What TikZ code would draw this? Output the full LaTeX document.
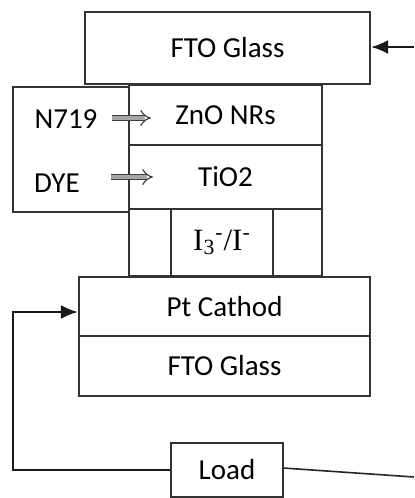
\documentclass[tikz,border=0pt]{standalone}
\usepackage{fontspec}
\setmainfont{Carlito}
\newfontfamily\tnr{Liberation Serif}
\usetikzlibrary{arrows.meta}
\begin{document}
\begin{tikzpicture}[x=0.5pt,y=-0.5pt,
  lay/.style={draw=black!80,line width=1.1pt,rectangle,inner sep=0pt,font=\fontsize{14.5}{17}\selectfont},
  wire/.style={draw=black!90,line width=1.1pt},
  tip/.style={-{Latex[length=8.5pt,width=7pt]}},
  hollow/.style={draw=black!75,line width=0.6pt,double=black!35,double distance=2.2pt,-{Implies[length=4pt]}}]
\useasboundingbox (0,0) rectangle (414,498);
% top FTO glass
\node[lay,minimum width=142.5pt,minimum height=36pt] (fto1) at (227.5,48) {FTO Glass};
% dye box
\node[lay,minimum width=58pt,minimum height=62.5pt] (dye) at (71,149.5) {};
\node[font=\fontsize{14.5}{17}\selectfont,inner sep=0pt] (n719) at (66,119) {N719};
\node[font=\fontsize{14.5}{17}\selectfont,inner sep=0pt] (dyet) at (57,183) {DYE};
% ZnO and TiO2
\node[lay,minimum width=96.5pt,minimum height=30pt] (zno) at (225.5,115) {ZnO NRs};
\node[lay,minimum width=96.5pt,minimum height=32pt] (tio) at (225.5,177) {TiO2};
% electrolyte
\node[lay,minimum width=96.5pt,minimum height=33.5pt] (ele) at (225.5,242.5) {};
\node[lay,minimum width=51pt,minimum height=33.5pt,font=\tnr\fontsize{15.5}{17}\selectfont] (iod) at (222,242.5) {I\textsubscript{3}\textsuperscript{-}/I\textsuperscript{-}};
% cathode
\node[lay,minimum width=145.5pt,minimum height=29.5pt] (pt) at (224.5,306.5) {Pt Cathod};
\node[lay,minimum width=145.5pt,minimum height=30pt] (fto2) at (224.5,366) {FTO Glass};
% load
\node[lay,minimum width=56pt,minimum height=27pt] (load) at (227,470) {Load};
% arrows from dye
\coordinate (a1s) at (112,118); \coordinate (a1e) at (151,118);
\coordinate (a2s) at (111,177); \coordinate (a2e) at (153,177);
\draw[hollow] (a1s) -- (a1e);
\draw[hollow] (a2s) -- (a2e);
% wires
\coordinate (topin) at (414,47);
\draw[wire,tip] (topin) -- (fto1.east |- topin);
\coordinate (lcorner) at (13,470);
\coordinate (ucorner) at (13,312);
\draw[wire,tip] (load.west) -- (lcorner) -- (ucorner) -- (pt.west |- ucorner);
\coordinate (rout) at (414,477);
\draw[black!85,line width=0.8pt] (283,468) -- (rout);
\end{tikzpicture}
\end{document}
